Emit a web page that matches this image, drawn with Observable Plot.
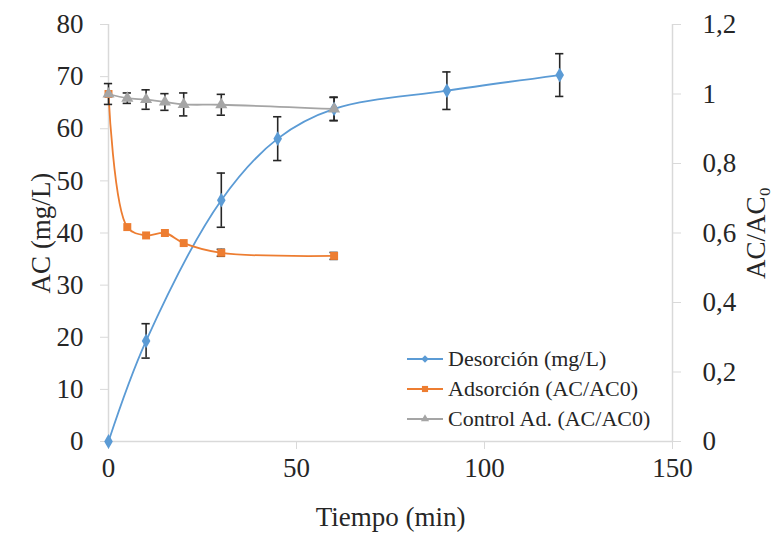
<!DOCTYPE html>
<html>
<head>
<meta charset="utf-8">
<script src="https://cdn.jsdelivr.net/npm/d3@7"></script>
<script src="https://cdn.jsdelivr.net/npm/@observablehq/plot@0.6"></script>
<style>
  html, body { margin: 0; padding: 0; background: #fff; }
  #wrap { position: relative; width: 777px; height: 533px; font-family: "Liberation Serif", "Times New Roman", Tinos, "Nimbus Roman", "DejaVu Serif", serif; }
  #wrap svg text { font-family: "Liberation Serif", "Times New Roman", Tinos, "Nimbus Roman", "DejaVu Serif", serif; }
  #legend { position: absolute; left: 405px; top: 344px; font-size: 22px; color: #262626; line-height: 30px; }
  #legend .row { display: flex; align-items: center; white-space: nowrap; }
  #legend svg { margin-right: 3px; }
</style>
</head>
<body>
<div id="wrap"></div>
<script>
// ---- data ----
const timeDes = [0, 10, 30, 45, 60, 90, 120];
const desorcion = [0, 19.3, 46.3, 58.1, 63.8, 67.3, 70.3];          // mg/L
const desorcionErr = [0, 3.3, 5.2, 4.2, 2.2, 3.6, 4.1];

const timeAds = [0, 5, 10, 15, 20, 30, 60];
const adsorcion = [1.0, 0.617, 0.593, 0.600, 0.571, 0.543, 0.534];  // AC/AC0
const adsorcionErr = [0.0, 0.0, 0.0, 0.0, 0.0, 0.01, 0.01];
const control = [1.0, 0.988, 0.984, 0.977, 0.970, 0.969, 0.957];    // AC/AC0
const controlErr = [0.03, 0.015, 0.028, 0.024, 0.033, 0.030, 0.034];

const seriesNames = ["Desorción (mg/L)", "Adsorción (AC/AC0)", "Control Ad. (AC/AC0)"];
const seriesColors = ["#5B9BD5", "#ED7D31", "#A5A5A5"];
const seriesSymbols = ["diamond", "square", "triangle"];

const leftTicks = [0, 10, 20, 30, 40, 50, 60, 70, 80];
const rightTicks = [0, 0.2, 0.4, 0.6, 0.8, 1.0, 1.2];
const xTicks = [0, 50, 100, 150];

// ---- build tables (right-axis values mapped onto left scale) ----
const K = 80 / 1.2;
const rows = [];
timeDes.forEach((t, i) => rows.push({s: 0, t, v: desorcion[i], e: desorcionErr[i]}));
timeAds.forEach((t, i) => rows.push({s: 1, t, v: adsorcion[i] * K, e: adsorcionErr[i] * K}));
timeAds.forEach((t, i) => rows.push({s: 2, t, v: control[i] * K, e: controlErr[i] * K}));
const errRows = rows.filter(d => d.e > 0);
const capHalf = 1.1; // in minutes

const axisColor = "#d9d9d9";
const textColor = "#262626";
const font = '"Liberation Serif", "Times New Roman", Tinos, "Nimbus Roman", "DejaVu Serif", serif';

const plot = Plot.plot({
  width: 777,
  height: 533,
  marginLeft: 108,
  marginRight: 105,
  marginTop: 24,
  marginBottom: 92,
  style: {fontFamily: font, color: textColor, background: "#fff"},
  x: {domain: [0, 150]},
  y: {domain: [0, 80]},
  marks: [
    Plot.ruleX([0], {stroke: axisColor, strokeWidth: 1.5}),
    Plot.ruleX([150], {stroke: axisColor, strokeWidth: 1.5}),
    Plot.ruleY([0], {stroke: axisColor, strokeWidth: 1.5}),
    Plot.axisX({ticks: xTicks, tickSize: 8, tickPadding: 8, stroke: axisColor, fontSize: 27, fill: textColor,
      label: "Tiempo (min)", labelAnchor: "center", labelArrow: "none", labelOffset: 84}),
    Plot.axisY({anchor: "left", ticks: leftTicks, tickSize: 8, tickPadding: 17, stroke: axisColor, fontSize: 27, fill: textColor,
      label: "AC (mg/L)", labelAnchor: "center", labelArrow: "none", labelOffset: 78}),
    Plot.axisY({anchor: "right", ticks: rightTicks.map(r => r * K), tickSize: 8, tickPadding: 22, stroke: axisColor, fontSize: 27, fill: textColor,
      tickFormat: d => { const r = Math.round(d / K * 10) / 10; return String(r).replace(".", ","); },
      label: "AC/AC₀", labelAnchor: "center", labelArrow: "none", labelOffset: 92}),
    Plot.line(rows, {x: "t", y: "v", z: "s", stroke: d => seriesColors[d.s], strokeWidth: 1.8, curve: "catmull-rom"}),
    Plot.ruleX(errRows, {x: "t", y1: d => d.v - d.e, y2: d => d.v + d.e, stroke: "#262626", strokeWidth: 1.6}),
    Plot.ruleY(errRows, {y: d => d.v - d.e, x1: d => d.t - capHalf, x2: d => d.t + capHalf, stroke: "#262626", strokeWidth: 1.6}),
    Plot.ruleY(errRows, {y: d => d.v + d.e, x1: d => d.t - capHalf, x2: d => d.t + capHalf, stroke: "#262626", strokeWidth: 1.6}),
    Plot.dot(rows, {x: "t", y: "v", fill: d => seriesColors[d.s], symbol: d => seriesSymbols[d.s], r: 4.5, stroke: "none"})
  ]
});
document.getElementById("wrap").appendChild(plot);

// legend (HTML overlay inside the plot area)
const leg = document.createElement("div");
leg.id = "legend";
seriesNames.forEach((name, i) => {
  const row = document.createElement("div");
  row.className = "row";
  const sym = d3.symbol().type(i === 0 ? d3.symbolDiamond2 : i === 1 ? d3.symbolSquare2 : d3.symbolTriangle2).size(i === 0 ? 36 : 48)();
  row.innerHTML = `<svg width="40" height="20" viewBox="0 0 40 20"><line x1="2" x2="38" y1="10" y2="10" stroke="${seriesColors[i]}" stroke-width="1.8"/><path d="${sym}" transform="translate(20,10)" fill="${seriesColors[i]}"/></svg><span>${name}</span>`;
  leg.appendChild(row);
});
document.getElementById("wrap").appendChild(leg);
</script>
</body>
</html>
